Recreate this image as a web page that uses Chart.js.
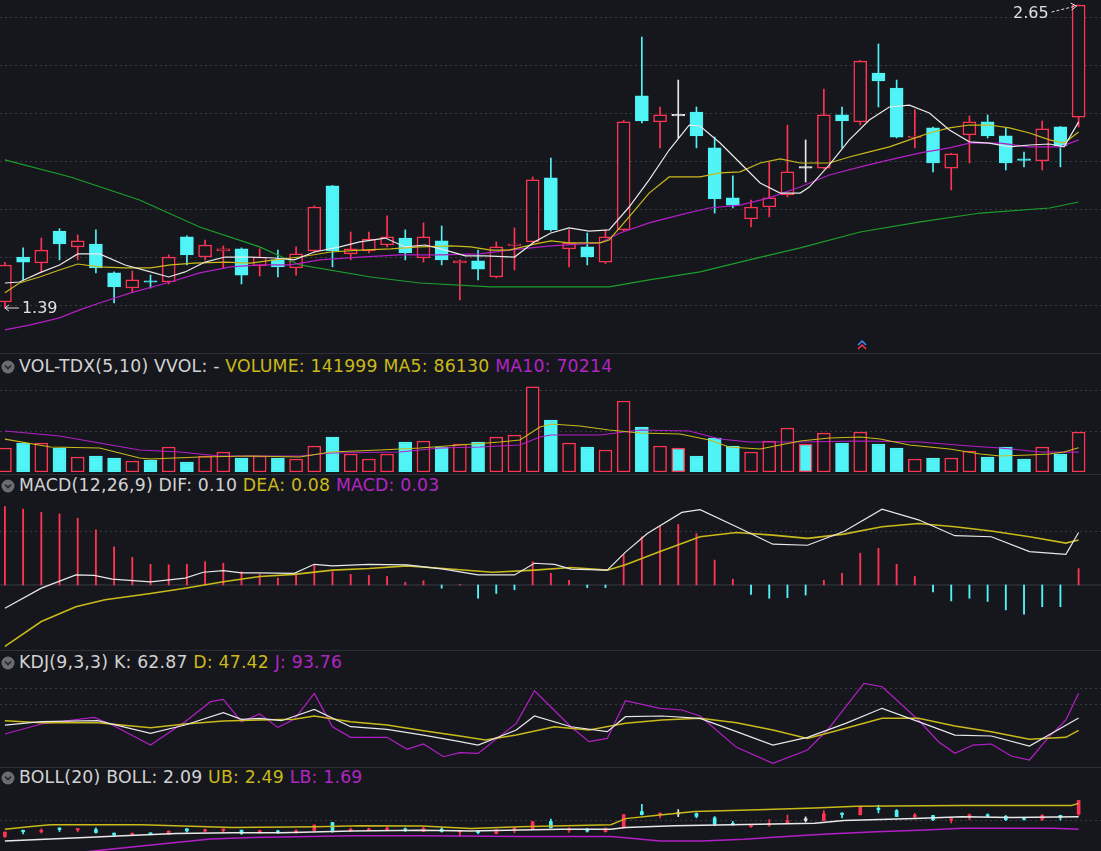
<!DOCTYPE html>
<html><head><meta charset="utf-8">
<script src="https://cdn.jsdelivr.net/npm/chart.js@4.4.0/dist/chart.umd.min.js"></script>
<style>
html,body{margin:0;padding:0;background:#16171d;width:1101px;height:851px;overflow:hidden;font-family:"DejaVu Sans","Noto Sans",sans-serif;}
canvas{position:absolute;left:0;}
.sep{position:absolute;left:0;width:1101px;height:1px;background:#2e3038;}
.hdr{position:absolute;left:0;font-size:17.3px;color:#d2d2d2;white-space:nowrap;line-height:20px;letter-spacing:0.2px}
.hdr svg{vertical-align:-2px;margin:0 4px 0 1px}
.y{color:#c9b91a}.m{color:#b225c4}
</style></head><body>
<canvas id="cMain" width="1101" height="352" style="top:0"></canvas>
<div class="sep" style="top:353px"></div>
<canvas id="cVol" width="1101" height="94" style="top:378px"></canvas>
<div class="sep" style="top:474px"></div>
<canvas id="cMacd" width="1101" height="153" style="top:495px"></canvas>
<div class="sep" style="top:650px"></div>
<canvas id="cKdj" width="1101" height="94" style="top:672px"></canvas>
<div class="sep" style="top:767px"></div>
<canvas id="cBoll" width="1101" height="64" style="top:787px"></canvas>
<div class="hdr" style="top:356px"><svg width="14" height="14"><circle cx="7" cy="7" r="6.5" fill="#6a6c72"/><path d="M4 5.5 L7 8.5 L10 5.5" stroke="#25262c" stroke-width="1.6" fill="none"/></svg>VOL-TDX(5,10) VVOL: - <span class="y">VOLUME: 141999 MA5: 86130</span> <span class="m">MA10: 70214</span></div>
<div class="hdr" style="top:475px"><svg width="14" height="14"><circle cx="7" cy="7" r="6.5" fill="#6a6c72"/><path d="M4 5.5 L7 8.5 L10 5.5" stroke="#25262c" stroke-width="1.6" fill="none"/></svg>MACD(12,26,9) DIF: 0.10 <span class="y">DEA: 0.08</span> <span class="m">MACD: 0.03</span></div>
<div class="hdr" style="top:652px"><svg width="14" height="14"><circle cx="7" cy="7" r="6.5" fill="#6a6c72"/><path d="M4 5.5 L7 8.5 L10 5.5" stroke="#25262c" stroke-width="1.6" fill="none"/></svg>KDJ(9,3,3) K: 62.87 <span class="y">D: 47.42</span> <span class="m">J: 93.76</span></div>
<div class="hdr" style="top:767px"><svg width="14" height="14"><circle cx="7" cy="7" r="6.5" fill="#6a6c72"/><path d="M4 5.5 L7 8.5 L10 5.5" stroke="#25262c" stroke-width="1.6" fill="none"/></svg>BOLL(20) BOLL: 2.09 <span class="y">UB: 2.49</span> <span class="m">LB: 1.69</span></div>
<script>
// ---------- DATA ----------
const opens  = [1.415,1.602,1.577,1.710,1.644,1.656,1.536,1.473,1.499,1.498,1.686,1.602,1.627,1.636,1.565,1.590,1.557,1.627,1.898,1.615,1.627,1.652,1.681,1.598,1.669,1.577,1.586,1.519,1.650,1.665,1.931,1.636,1.644,1.581,1.715,2.272,2.164,2.189,2.205,2.056,1.848,1.760,1.810,1.860,1.972,1.972,2.193,2.164,2.367,2.305,2.099,2.139,1.972,2.110,2.164,2.106,2.006,2.002,2.143,2.184];
const highs  = [1.580,1.640,1.681,1.720,1.694,1.715,1.540,1.544,1.527,1.611,1.690,1.673,1.648,1.640,1.636,1.631,1.644,1.815,1.900,1.706,1.706,1.773,1.715,1.744,1.731,1.590,1.631,1.665,1.723,1.935,2.014,1.715,1.702,1.715,2.170,2.517,2.226,2.338,2.226,2.101,1.940,1.839,1.997,2.151,2.089,2.301,2.226,2.420,2.488,2.338,2.214,2.142,2.033,2.189,2.193,2.139,2.039,2.168,2.145,2.650];
const lows   = [1.390,1.507,1.540,1.590,1.590,1.536,1.411,1.453,1.473,1.490,1.569,1.590,1.557,1.490,1.523,1.519,1.527,1.620,1.561,1.590,1.619,1.644,1.590,1.581,1.569,1.424,1.507,1.515,1.548,1.660,1.710,1.561,1.569,1.575,1.710,2.160,2.056,2.097,2.056,1.785,1.806,1.727,1.769,1.852,1.914,1.970,2.056,2.151,2.226,2.097,2.056,1.956,1.881,1.993,2.097,1.964,1.977,1.964,1.977,2.143];
const closes = [1.569,1.581,1.631,1.656,1.669,1.557,1.478,1.507,1.497,1.602,1.611,1.652,1.636,1.527,1.602,1.561,1.615,1.810,1.627,1.636,1.677,1.686,1.619,1.686,1.590,1.586,1.552,1.644,1.656,1.923,1.715,1.661,1.602,1.686,2.164,2.168,2.193,2.189,2.106,1.844,1.818,1.810,1.848,1.956,1.972,2.193,2.168,2.417,2.334,2.101,2.103,1.993,2.031,2.164,2.106,1.993,2.004,2.135,2.064,2.650];
const volumes = [85200,103000,103000,85200,53300,56800,49700,39000,42600,88800,35500,56800,71000,49700,56800,49700,46200,92300,124000,63900,46200,63900,106500,110000,88800,99400,106500,124000,131000,302000,184600,103000,88800,78100,252000,159800,92300,85200,56800,120700,92300,71000,110000,156200,99400,138500,103000,142000,99400,85200,46200,49700,49700,74600,53300,88800,46200,88800,63900,141999];
// moving averages as [candle position, value]
const ma5 = [[0,1.494],[0.8,1.498],[1.9,1.536],[3,1.569],[4,1.615],[5.2,1.615],[6.6,1.569],[8,1.540],[9,1.519],[9.9,1.540],[11,1.581],[12.1,1.602],[13.5,1.602],[14.8,1.598],[15.9,1.590],[17,1.623],[18.4,1.644],[19.5,1.665],[20.9,1.681],[22,1.644],[23.1,1.652],[24.2,1.631],[25.3,1.607],[26.4,1.607],[28,1.602],[29.1,1.665],[30,1.702],[31,1.723],[32.1,1.710],[33.2,1.715],[34.3,1.810],[35.4,1.923],[36.5,2.047],[37.6,2.151],[38.2,2.147],[39.3,2.076],[40.4,1.993],[41.5,1.910],[42.6,1.868],[43.7,1.868],[44.2,1.893],[45.3,1.985],[46.4,2.089],[47.5,2.172],[48.6,2.226],[49.7,2.234],[50.8,2.201],[51.9,2.130],[53,2.081],[54.1,2.076],[55.2,2.060],[56.3,2.068],[57.4,2.072],[58.2,2.060],[59,2.164]];
const ma10 = [[0,1.453],[0.8,1.494],[1.9,1.519],[3,1.548],[4,1.573],[5.2,1.561],[6.6,1.557],[8,1.557],[9.1,1.569],[10.4,1.577],[12.1,1.581],[13.5,1.577],[14.8,1.590],[16.2,1.602],[17.9,1.623],[19.5,1.631],[21.2,1.636],[22.8,1.644],[24.5,1.648],[25.6,1.644],[26.7,1.631],[27.7,1.631],[29.1,1.656],[30,1.669],[31,1.661],[32.7,1.661],[33.2,1.673],[34.3,1.769],[35.4,1.868],[36.5,1.935],[38.2,1.935],[39.3,1.952],[40.4,1.956],[41.5,1.993],[42.6,2.010],[43.7,1.993],[45.3,1.993],[46.4,2.018],[47.5,2.039],[48.6,2.060],[49.7,2.089],[50.8,2.118],[51.9,2.139],[53,2.151],[54.1,2.151],[55.2,2.139],[56.3,2.118],[57.4,2.089],[58.2,2.076],[59,2.122]];
const ma20 = [[0,1.299],[1.4,1.320],[3,1.349],[4.1,1.382],[5.2,1.411],[6.9,1.453],[9.1,1.498],[10.7,1.536],[12.4,1.561],[14,1.569],[15.7,1.569],[17.3,1.590],[19.5,1.602],[21.7,1.611],[23.9,1.611],[26.1,1.615],[27.7,1.631],[30,1.648],[32.7,1.661],[33.8,1.702],[35.4,1.744],[37.1,1.777],[38.7,1.806],[40.4,1.818],[42,1.848],[43.7,1.893],[45.3,1.943],[47,1.977],[48.6,2.006],[50.3,2.035],[51.9,2.056],[53,2.076],[54.7,2.076],[56.3,2.060],[58,2.060],[59,2.089]];
const ma60 = [[0,2.006],[3.6,1.935],[7.4,1.839],[10.7,1.727],[14,1.644],[16.2,1.569],[20.1,1.519],[22.8,1.494],[26.7,1.478],[30,1.478],[33.2,1.478],[35.4,1.507],[38.2,1.540],[40.9,1.590],[43.7,1.640],[47,1.706],[50.3,1.748],[53.6,1.785],[57.4,1.806],[59,1.831]];
const volMa5 = [[0,117000],[2.5,88800],[5.2,85200],[7.4,49700],[8,46200],[10.7,53300],[13.5,56800],[16.2,53300],[17.9,71000],[20.6,78100],[22.8,85200],[25,95900],[27.2,106500],[28.3,113600],[29.4,159800],[30,170400],[31.6,163300],[33.2,149100],[34.9,138500],[37.1,134900],[38.7,113600],[39.8,88800],[41.5,81700],[42.6,95900],[43.7,110000],[45.3,120700],[47,124300],[48.1,117200],[49.7,95900],[51.9,81700],[53.6,63900],[54.7,56800],[56.3,60400],[57.4,63900],[58.2,71000],[59,86130]];
const volMa10 = [[0,145600],[3,127800],[7.4,78100],[9.6,71000],[11.8,56800],[16.2,56800],[17.9,67500],[21.7,71000],[23.9,85200],[26.1,88800],[28.3,95900],[29.4,124300],[30,131400],[32.7,131400],[34.9,149100],[37.6,145600],[39.3,117200],[40.9,106500],[43.7,106500],[47,110000],[50.3,106500],[53,92300],[54.7,85200],[56.9,71000],[59,70214]];
const macdHist = [0.148,0.143,0.137,0.134,0.126,0.104,0.072,0.052,0.039,0.038,0.039,0.044,0.041,0.025,0.021,0.013,0.019,0.038,0.025,0.020,0.018,0.016,0.005,0.008,-0.006,0.001,-0.025,-0.016,-0.009,0.044,0.022,0.009,-0.005,-0.005,0.057,0.091,0.110,0.114,0.097,0.047,0.011,-0.018,-0.025,-0.024,-0.019,0.009,0.022,0.060,0.069,0.039,0.016,-0.013,-0.030,-0.025,-0.031,-0.047,-0.055,-0.041,-0.041,0.031];
const dif = [[0,-0.044],[2,-0.006],[3.9,0.019],[4.9,0.018],[5.9,0.011],[8,0.006],[9.9,0.013],[10.9,0.024],[12,0.027],[13,0.023],[14,0.023],[15.9,0.022],[17,0.039],[18,0.036],[20,0.039],[22.1,0.038],[24.1,0.030],[26,0.019],[28,0.019],[29.1,0.041],[30.2,0.039],[31.1,0.030],[33.1,0.028],[34.1,0.062],[35.3,0.097],[37.2,0.137],[38.2,0.142],[40.2,0.110],[42.2,0.077],[44.1,0.075],[46.1,0.101],[48.2,0.143],[50.2,0.123],[52.2,0.093],[54.2,0.091],[56.3,0.063],[58.3,0.058],[59,0.099]];
const dea = [[0,-0.116],[2,-0.069],[3.9,-0.041],[5.5,-0.028],[8,-0.016],[9.9,-0.006],[12,0.006],[14,0.016],[15.9,0.020],[18,0.028],[20,0.031],[22.1,0.036],[24.1,0.031],[26.8,0.024],[29.1,0.028],[31.1,0.033],[33.1,0.028],[34.1,0.038],[36,0.063],[38.2,0.091],[40.2,0.099],[42.2,0.094],[44.1,0.088],[46.1,0.096],[48.2,0.110],[50.2,0.116],[52.2,0.110],[54.2,0.102],[56.3,0.091],[58.3,0.079],[59,0.085]];
const kLine = [[0,54.1],[2,58.3],[5.1,59.5],[8,43.7],[9.9,54.1],[12,69.5],[13,61.2],[14,62.5],[15.2,59.5],[17,73.7],[19,52.0],[21,48.7],[23,41.6],[25,33.3],[26,29.1],[28.1,47.9],[29.1,65.4],[31.1,52.0],[33.1,45.8],[34.1,64.5],[36.1,65.4],[38.2,62.5],[40.2,45.8],[42.2,29.1],[44.1,38.7],[46.2,56.2],[48.2,75.0],[50.2,58.3],[52.2,41.6],[54.2,40.4],[56.3,27.9],[59,62.87]];
const dLine = [[0,59.5],[2,57.0],[5.1,57.0],[8,50.8],[9.9,55.4],[12,59.1],[14,60.4],[15.9,61.2],[17,65.4],[19,58.3],[21,54.1],[23,47.0],[25,40.4],[26.4,35.4],[28.1,41.6],[30.2,52.0],[32.1,47.9],[34.1,56.2],[36.1,60.4],[38.2,62.5],[40.2,57.0],[42.2,47.9],[44.1,37.4],[46.2,50.0],[48.2,62.5],[50.2,62.5],[52.2,52.9],[54.2,45.8],[56.3,36.2],[58.3,38.7],[59,47.42]];
const jLine = [[0,42.9],[2,55.4],[4.9,63.7],[5.9,54.1],[8,29.1],[9.9,58.3],[11.3,83.3],[12,86.2],[13,58.3],[14,67.9],[15,51.2],[15.9,61.2],[17,93.7],[18,52.0],[19,38.7],[21,38.7],[22.1,23.7],[23,30.4],[24.1,14.5],[25,19.5],[26,18.7],[28.1,56.2],[29.1,97.0],[31.1,52.0],[32.1,33.3],[33.1,37.4],[34.1,84.5],[36,75.0],[37.2,72.9],[38.2,65.4],[40.2,26.2],[42.2,6.2],[44.1,22.9],[45.2,47.9],[47.2,106.2],[48.2,102.0],[50.2,60.4],[51.3,33.3],[52.2,18.7],[53.2,29.1],[54.2,30.4],[55.3,15.4],[56.3,10.4],[57.3,37.4],[58.3,60.4],[59,93.76]];
const bollUb = [[0,1.666],[1.3,1.751],[2.5,1.824],[7.5,1.824],[12.5,1.727],[17.1,1.751],[19.5,1.787],[22.9,1.775],[25.6,1.690],[28.3,1.751],[33.3,1.824],[34.1,2.030],[36,2.151],[37.9,2.272],[41.4,2.333],[44.5,2.394],[46.8,2.454],[52.5,2.479],[58.6,2.479],[59,2.551]];
const bollMid = [[0,1.266],[2.5,1.338],[4.4,1.387],[6.5,1.448],[9.4,1.520],[12.5,1.545],[15.2,1.545],[19.1,1.605],[22.9,1.630],[25.6,1.605],[28.3,1.642],[30.6,1.666],[33.3,1.666],[34.1,1.727],[36.8,1.787],[39.9,1.824],[42.2,1.848],[44.5,1.872],[46.1,1.969],[50,2.030],[52.6,2.090],[55.3,2.066],[59,2.090]];
const bollLb = [[0,0.853],[3.6,0.841],[5.1,0.938],[7.5,1.096],[9.4,1.217],[11.3,1.338],[13.6,1.387],[19.1,1.448],[22.9,1.448],[28.3,1.423],[33.3,1.423],[34.4,1.363],[36,1.266],[38.3,1.266],[40.6,1.326],[42.9,1.423],[45.2,1.508],[47.9,1.581],[50.6,1.642],[52.6,1.702],[57.6,1.702],[59,1.666]];
const mainGrid = [1.4,1.6,1.8,2.0,2.2,2.4,2.6];
const volGrid = [143000,290000];
const macdGrid = [0.1];
const kdjGrid = [80,100];
const bollGrid = [1.98];

// ---------- helpers ----------
const BG='#16171d', RED='#ff3352', CYAN='#50f4f6', WHITE='#e8e8e8', YEL='#c9b91a', MAG='#b31fc6', GRN='#1c9e2a';
const N = closes.length;
const idx = [...Array(N).keys()];
const candleColor = i => closes[i]>opens[i]?RED:(closes[i]<opens[i]?CYAN:WHITE);
const pts = a => a.map(p=>({x:p[0],y:p[1]}));
const line = (a,c,w)=>({type:'line',data:pts(a),borderColor:c,borderWidth:w||1.2,pointRadius:0,tension:0,fill:false});
function candles(bodyW,wickW){
  return [
    {type:'bar',data:idx.map(i=>({x:i,y:[opens[i],closes[i]]})),grouped:false,barThickness:bodyW,minBarLength:1.5,
     backgroundColor:idx.map(i=>closes[i]>opens[i]&&bodyW>6?BG:candleColor(i)),borderColor:idx.map(candleColor),
     borderWidth:bodyW>6?1.5:0,borderSkipped:false},
    {type:'bar',data:idx.map(i=>({x:i,y:[lows[i],highs[i]]})),grouped:false,barThickness:wickW,
     backgroundColor:idx.map(candleColor),borderWidth:0}
  ];
}
function make(id,datasets,ymin,ymax,grid,gridColor,plugins){
  return new Chart(document.getElementById(id),{
    type:'bar',data:{datasets},
    plugins:plugins||[],
    options:{responsive:false,animation:false,devicePixelRatio:1,
      layout:{padding:0},
      plugins:{legend:{display:false},tooltip:{enabled:false}},
      scales:{
        x:{type:'linear',min:-0.27,max:60.23,display:false,offset:false},
        y:{min:ymin,max:ymax,ticks:{display:false},border:{display:false,dash:[2,3]},
           grid:{color:gridColor||'#3a3c45',drawTicks:false,lineWidth:1},
           afterFit:s=>{s.width=0;},
           afterBuildTicks:s=>{s.ticks=grid.map(v=>({value:v}));}}
      }}
  });
}
const markPlugin={id:'marks',afterDatasetsDraw(ch){
  const c=ch.ctx,xs=ch.scales.x,ys=ch.scales.y;
  let hi=0,lo=0;
  for(let i=0;i<N;i++){if(highs[i]>highs[hi])hi=i;if(lows[i]<lows[lo])lo=i;}
  c.save();c.font='16px "DejaVu Sans", sans-serif';c.fillStyle='#e0e0e0';c.strokeStyle='#e0e0e0';c.lineWidth=1;
  const hx=xs.getPixelForValue(hi),hy=ys.getPixelForValue(highs[hi]);
  c.textAlign='right';c.textBaseline='middle';c.fillText(highs[hi].toFixed(2),hx-30,hy+9);
  c.setLineDash([3,2]);c.beginPath();c.moveTo(hx-27,hy+7);c.lineTo(hx-3,hy+1);c.stroke();c.setLineDash([]);
  c.beginPath();c.moveTo(hx-8,hy-2);c.lineTo(hx-2,hy+1);c.lineTo(hx-7,hy+5);c.stroke();
  const lx=xs.getPixelForValue(lo),ly=ys.getPixelForValue(lows[lo]);
  c.textAlign='left';c.fillText(lows[lo].toFixed(2),lx+17,ly+1);
  c.beginPath();c.moveTo(lx,ly);c.lineTo(lx+14,ly);c.moveTo(lx,ly);c.lineTo(lx+4,ly-3);c.moveTo(lx,ly);c.lineTo(lx+4,ly+3);c.stroke();
  const mx=xs.getPixelForValue(47.1);
  c.strokeStyle='#3a8cff';c.lineWidth=1.5;c.beginPath();c.moveTo(mx-4,ch.chartArea.bottom-7);c.lineTo(mx,ch.chartArea.bottom-11);c.lineTo(mx+4,ch.chartArea.bottom-7);c.stroke();
  c.strokeStyle='#ff3050';c.beginPath();c.moveTo(mx-4,ch.chartArea.bottom-3);c.lineTo(mx,ch.chartArea.bottom-7);c.lineTo(mx+4,ch.chartArea.bottom-3);c.stroke();
  c.restore();
}};
make('cMain',[line(ma5,WHITE),line(ma10,YEL),line(ma20,MAG),line(ma60,GRN),...candles(13,1)],1.207,2.671,mainGrid,'#3a3c45',[markPlugin]);
make('cVol',[line(volMa5,YEL),line(volMa10,MAG),
  {type:'bar',data:idx.map(i=>({x:i,y:volumes[i]})),grouped:false,barThickness:13,
   backgroundColor:idx.map(i=>closes[i]>=opens[i]&&!(closes[i]==opens[i])?BG:CYAN),
   borderColor:idx.map(i=>closes[i]>=opens[i]?RED:CYAN),borderWidth:1.5,borderSkipped:false}],
  0,333700,volGrid);
const zeroLine={id:'zero',beforeDatasetsDraw(ch){const c=ch.ctx,y=ch.scales.y.getPixelForValue(0);c.save();c.strokeStyle='#3a3c45';c.lineWidth=1;c.beginPath();c.moveTo(0,y);c.lineTo(ch.width,y);c.stroke();c.restore();}};
make('cMacd',[line(dif,WHITE),line(dea,YEL,1.6),
  {type:'bar',data:idx.map(i=>({x:i,y:[0,macdHist[i]]})),grouped:false,barThickness:1.2,
   backgroundColor:idx.map(i=>macdHist[i]>=0?RED:CYAN),borderWidth:0}],
  -0.1189,0.1698,macdGrid,'#3a3c45',[zeroLine]);
make('cKdj',[line(kLine,WHITE),line(dLine,YEL,1.5),line(jLine,MAG)],2.9,120.4,kdjGrid);
make('cBoll',[line(bollUb,YEL,1.5),line(bollMid,WHITE,1.5),line(bollLb,MAG,1.5),...candles(3,1)],0.925,3.109,bollGrid);
</script></body></html>
